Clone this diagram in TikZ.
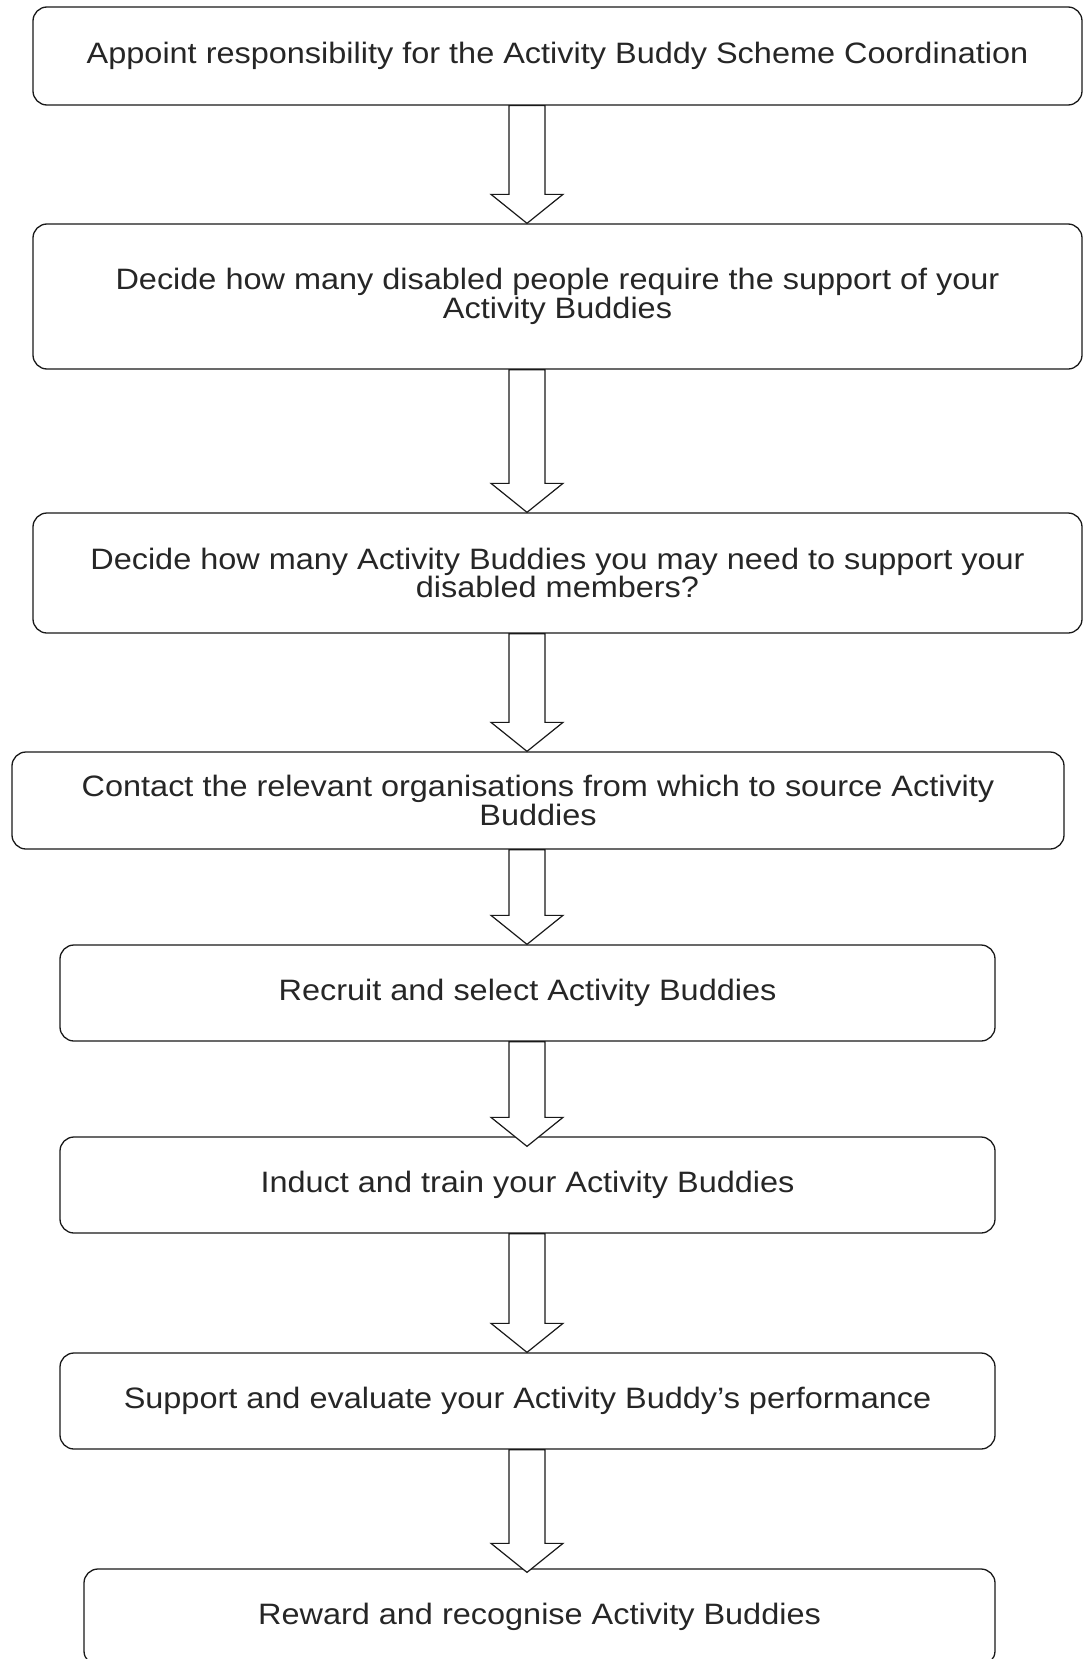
\documentclass[tikz,border=0pt]{standalone}
\usepackage{fontspec}
\setmainfont{Liberation Sans}
\newfontfamily\boxfont[FakeStretch=1.1]{Liberation Sans}
\usetikzlibrary{calc}
\tikzset{
  box/.style={draw=black!90, line width=1.3pt, rounded corners=14pt, align=center,
    inner sep=0pt, font=\boxfont\fontsize{29.5}{25}\selectfont, text=black!85},
  blockarrow/.style={draw=black!90, line width=1.2pt, fill=white, line join=miter},
}
\newcommand\barrow[3]{%
  \path (#1.south -| ax) coordinate (s) (#2.north -| ax) coordinate (t0);
  \path (t0) ++(0,#3) coordinate (t);
  \draw[blockarrow] ($(s)+(-18,0)$) -- ($(t)+(-18,-29)$) -- ($(t)+(-36,-29)$) -- (t)
    -- ($(t)+(36,-29)$) -- ($(t)+(18,-29)$) -- ($(s)+(18,0)$) -- cycle;
}
\begin{document}
\begin{tikzpicture}[x=1pt,y=-1pt]
\useasboundingbox (0,0) rectangle (1084,1659);
\coordinate (ax) at (527,0);
\node[box, minimum width=1049pt, minimum height=98pt] (b1) at (557.5,56)
  {Appoint responsibility for the Activity Buddy Scheme Coordination};
\node[box, minimum width=1049pt, minimum height=145pt] (b2) at (557.5,296.5)
  {Decide how many disabled people require the support of your\\Activity Buddies};
\node[box, minimum width=1049pt, minimum height=120pt] (b3) at (557.5,573)
  {Decide how many Activity Buddies you may need to support your\\disabled members?};
\node[box, minimum width=1052pt, minimum height=97pt] (b4) at (538,800.5)
  {Contact the relevant organisations from which to source Activity\\Buddies};
\node[box, minimum width=935pt, minimum height=96pt] (b5) at (527.5,993)
  {Recruit and select Activity Buddies};
\node[box, minimum width=935pt, minimum height=96pt] (b6) at (527.5,1185)
  {Induct and train your Activity Buddies};
\node[box, minimum width=935pt, minimum height=96pt] (b7) at (527.5,1401)
  {Support and evaluate your Activity Buddy’s performance};
\node[box, minimum width=911pt, minimum height=96pt] (b8) at (539.5,1617)
  {Reward and recognise Activity Buddies};
\barrow{b1}{b2}{0}
\barrow{b2}{b3}{0}
\barrow{b3}{b4}{0}
\barrow{b4}{b5}{0}
\barrow{b5}{b6}{10}
\barrow{b6}{b7}{0}
\barrow{b7}{b8}{4}
\end{tikzpicture}
\end{document}
